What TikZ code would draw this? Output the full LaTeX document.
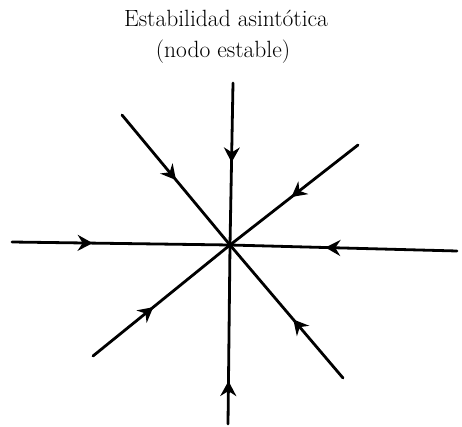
\documentclass[tikz,border=0pt]{standalone}
\usetikzlibrary{arrows.meta,decorations.markings}
\tikzset{
  flow/.style={line width=2.8pt, line cap=round,
    postaction={decorate},
    decoration={markings, mark=at position #1 with {\arrow{Stealth[length=15pt,width=16pt,inset=5pt]}}}},
  title/.style={font=\fontsize{23.5}{28}\selectfont, anchor=base, inner sep=0pt}
}
\begin{document}
\begin{tikzpicture}[x=1pt,y=-1pt]
\useasboundingbox (0,0) rectangle (462,427);
\node[title] (t1) at (226,27) {Estabilidad asintótica};
\node[title] (t2) at (223,58) {(nodo estable)};
\coordinate (O) at (230,245);
\coordinate (L) at (12,242);
\coordinate (R) at (457,251);
\coordinate (T) at (233,83);
\coordinate (B) at (228,424);
\coordinate (UL) at (122,115);
\coordinate (UR) at (358,145);
\coordinate (LL) at (93,356);
\coordinate (LR) at (343,378);
\draw[flow=0.37] (L) -- (O);
\draw[flow=0.58] (R) -- (O);
\draw[flow=0.49] (T) -- (O);
\draw[flow=0.24] (B) -- (O);
\draw[flow=0.50] (UL) -- (O);
\draw[flow=0.52] (UR) -- (O);
\draw[flow=0.44] (LL) -- (O);
\draw[flow=0.44] (LR) -- (O);
\end{tikzpicture}
\end{document}
